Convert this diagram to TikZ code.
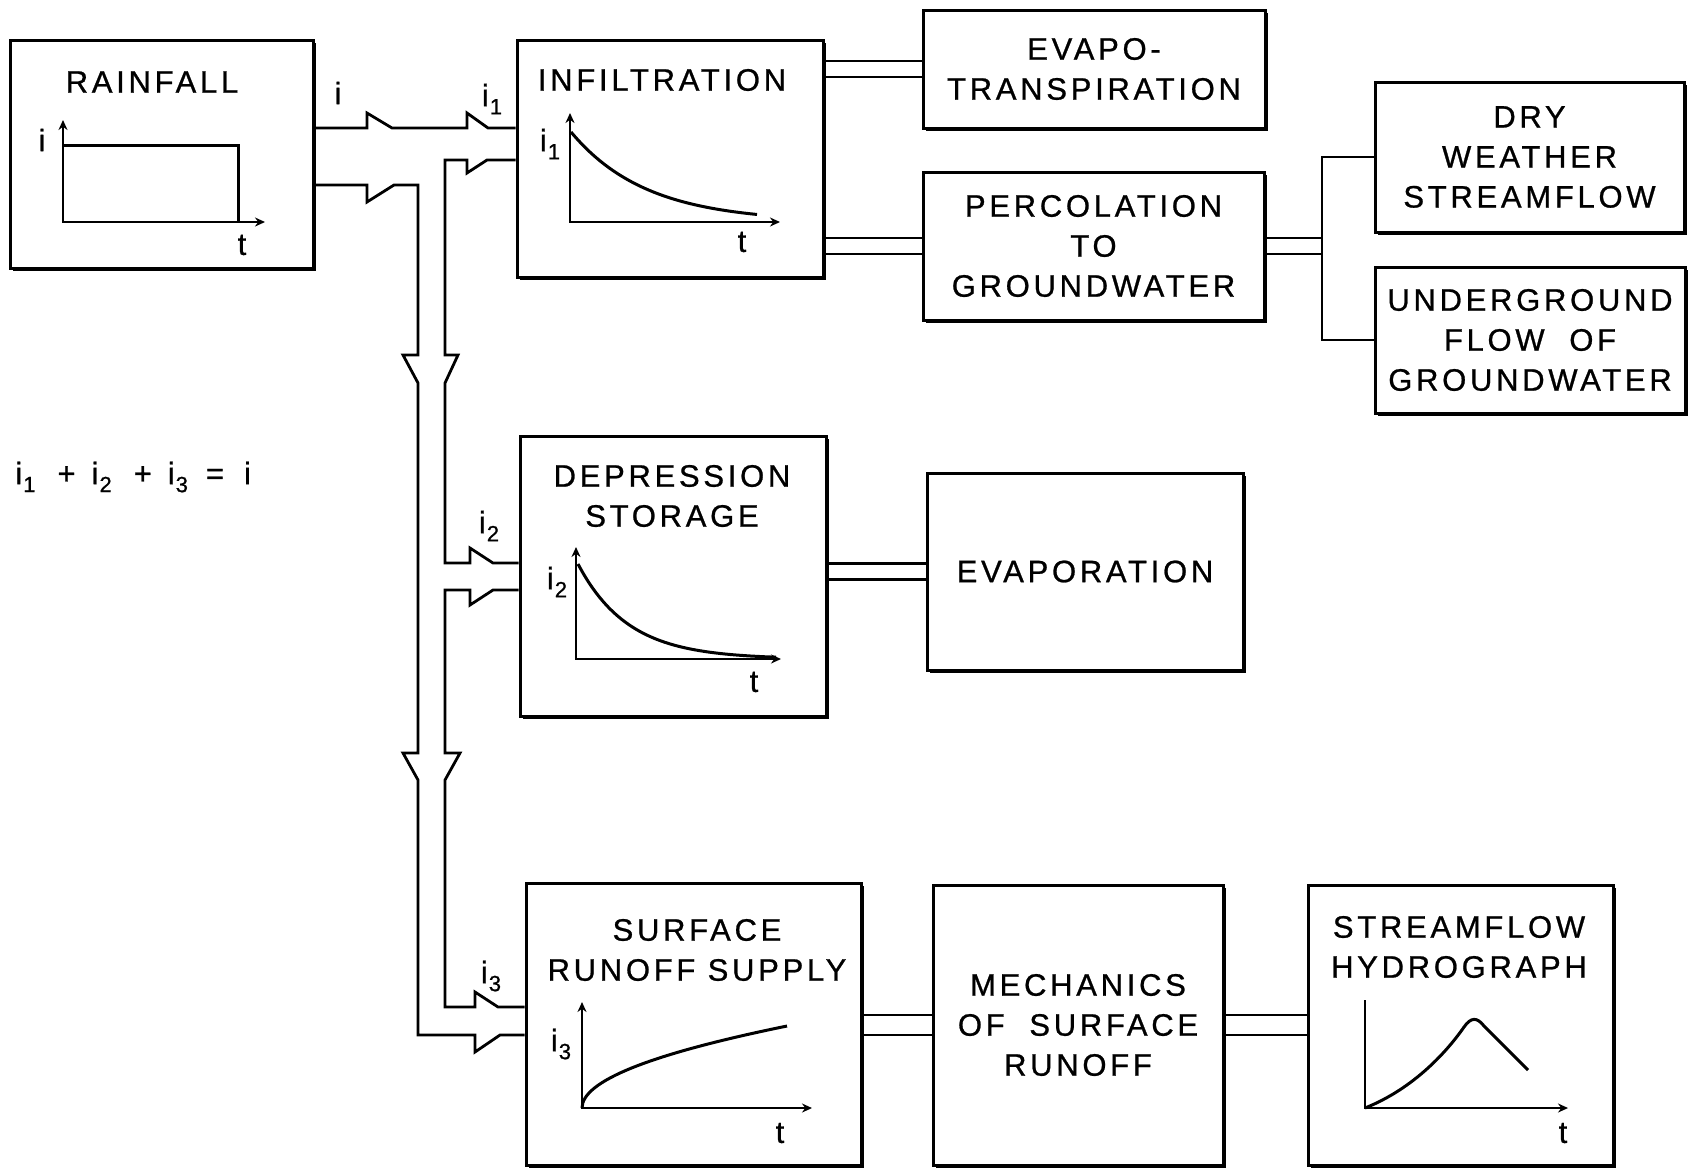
\documentclass[tikz,border=0pt]{standalone}
\usepackage{fontspec}
\newfontfamily\lettering[LetterSpace=12, FakeBold=0.8]{Liberation Sans}
\usetikzlibrary{
  arrows.meta,
  fit,
  backgrounds,
  shadows
}
\newcommand{\isub}[1]{i\kern0.5pt\raisebox{-4pt}{\fontsize{11}{11}\selectfont #1}}

\begin{document}
\begin{tikzpicture}[
  x=0.5pt, y=-0.5pt,
  blk/.style={
    draw, line width=1.5pt, fill=white, inner sep=0pt,
    drop shadow={shadow xshift=1.6pt, shadow yshift=-1.6pt, opacity=1, fill=black},
  },
  ttl/.style={font=\lettering\fontsize{15.5}{20}\selectfont, align=center},
  lbl/.style={font=\lettering\fontsize{15.5}{16}\selectfont, inner sep=0pt},
  pipe/.style={line width=1.4pt, line join=miter},
  duct/.style={double, line width=1.2pt, double distance=6.8pt},
  wire/.style={line width=1.4pt},
  axis/.style={line width=1.4pt, {Stealth[length=5pt,width=4.5pt]}-{Stealth[length=5pt,width=4.5pt]}},
  haxis/.style={line width=1.4pt, -{Stealth[length=5pt,width=4.5pt]}},
  curve/.style={line width=1.5pt},
]
\useasboundingbox (0,0) rectangle (1689,1168);

% Boxes
\node[blk, fit={(10,40) (313,268)}]     (rain)  {};
\node[blk, fit={(517,40) (823,277)}]    (infil) {};
\node[blk, fit={(923,10) (1265,128)}]   (evt)   {};
\node[blk, fit={(923,172) (1264,320)}]  (perc)  {};
\node[blk, fit={(1375,82) (1684,232)}]  (dry)   {};
\node[blk, fit={(1375,267) (1685,413)}] (under) {};
\node[blk, fit={(520,436) (826,716)}]   (depr)  {};
\node[blk, fit={(927,473) (1243,670)}]  (evap)  {};
\node[blk, fit={(526,883) (861,1165)}]  (surf)  {};
\node[blk, fit={(933,885) (1223,1165)}] (mech)  {};
\node[blk, fit={(1308,885) (1613,1165)}] (hydro) {};

% Box texts
\node[ttl] (evtT)   at (evt)   {EVAPO-\\TRANSPIRATION};
\node[ttl] (percT)  at (perc)  {PERCOLATION\\TO\\GROUNDWATER};
\node[ttl] (dryT)   at (dry)   {DRY\\WEATHER\\STREAMFLOW};
\node[ttl] (underT) at (under) {UNDERGROUND\\FLOW\ \ OF\\GROUNDWATER};
\node[ttl] (evapT)  at (evap)  {EVAPORATION};
\node[ttl] (mechT)  at (mech)  {MECHANICS\\OF\ \ SURFACE\\RUNOFF};
\node[ttl] (rainT)  at (152,82)   {RAINFALL};
\node[ttl] (infilT) at (662,80)   {INFILTRATION};
\node[ttl] (deprT)  at (672,496)  {DEPRESSION\\STORAGE};
\node[ttl] (surfT)  at (697,950)  {SURFACE\\RUNOFF SUPPLY};
\node[ttl] (hydroT) at (1459,947) {STREAMFLOW\\HYDROGRAPH};

% Small graphs
\draw[axis] (63,120) -- (63,222) -- (265,222);
\draw[curve] (63,145) -- (238,145) -- (238,222);
\node[lbl] (rainI) at (42,140)  {i};
\node[lbl] (raint) at (242,245) {t};

\draw[axis] (570,113) -- (570,222) -- (780,222);
\draw[curve] plot[domain=571:757, samples=40, smooth] (\x, {222-90*exp(-(\x-571)/75)});
\node[lbl] (infilI) at (550,144) {\isub{1}};
\node[lbl] (infilt) at (742,242) {t};

\draw[axis] (576,547) -- (576,659) -- (781,659);
\draw[curve] plot[domain=578:776, samples=40, smooth] (\x, {659-95*exp(-(\x-578)/50)});
\node[lbl] (deprI) at (557,582) {\isub{2}};
\node[lbl] (deprt) at (754,682) {t};

\draw[axis] (582,1002) -- (582,1108) -- (812,1108);
\draw[curve] (582,1108) .. controls (582,1081) and (650,1054) .. (787,1026);
\node[lbl] (surfI) at (561,1044) {\isub{3}};
\node[lbl] (surft) at (780,1133) {t};

\draw[haxis] (1365,1000) -- (1365,1108) -- (1568,1108);
\draw[curve] (1365,1108) .. controls (1415,1088) and (1448,1050) .. (1464,1027)
  .. controls (1471,1017) and (1477,1017) .. (1484,1026) -- (1528,1070);
\node[lbl] (hydrot) at (1563,1133) {t};

% Pipe levels
\coordinate (yA) at (0,128);
\coordinate (yB) at (0,185);
\coordinate (yC) at (0,160);
\coordinate (yD) at (0,563);
\coordinate (yE) at (0,590);
\coordinate (yF) at (0,1007);
\coordinate (yG) at (0,1035);
\coordinate (split) at (1322,246);

% Flow pipes with arrow notches
\draw[pipe] (rain.east |- yA) -- (367,128) -- ++(0,-15) -- ++(25,15) -- (467,128)
  -- ++(0,-15) -- ++(21,15) -- (infil.west |- yA);
\draw[pipe] (rain.east |- yB) -- (367,185) -- ++(0,17) -- ++(27,-17) -- (418,185)
  -- (418,355) -- ++(-15,0) -- ++(15,28) -- (418,753) -- ++(-15,0) -- ++(15,27)
  -- (418,1035) -- (475,1035) -- ++(0,17) -- ++(25,-17) -- (surf.west |- yG);
\draw[pipe] (infil.west |- yC) -- (487,160) -- ++(-20,13) -- ++(0,-13) -- (445,160)
  -- (445,355) -- ++(13,0) -- ++(-13,28) -- (445,563) -- (470,563)
  -- ++(0,-15) -- ++(23,15) -- (depr.west |- yD);
\draw[pipe] (depr.west |- yE) -- (493,590) -- ++(-23,15) -- ++(0,-15) -- (445,590)
  -- (445,753) -- ++(15,0) -- ++(-15,27) -- (445,1007) -- (475,1007)
  -- ++(0,-15) -- ++(23,15) -- (surf.west |- yF);

% Pipe labels
\node[lbl] (lbli)  at (338,93)  {i};
\node[lbl] (lbli1) at (492,99)  {\isub{1}};
\node[lbl] (lbli2) at (489,526) {\isub{2}};
\node[lbl] (lbli3) at (491,976) {\isub{3}};

% Balance
\node[lbl, anchor=west] (bal) at (15,477)
  {\isub{1}\hspace{11pt}+\hspace{8pt}\isub{2}\hspace{11pt}+\hspace{8pt}\isub{3}\hspace{9pt}=\hspace{10pt}i};

% Ducts between boxes
\begin{scope}[on background layer]
\draw[duct] (infil.east |- evt.west) -- (evt.west);
\draw[duct] (infil.east |- perc.west) -- (perc.west);
\draw[duct] (perc.east) -- (split);
\draw[duct] (depr.east |- evap.west) -- (evap.west);
\draw[duct, double distance=8.8pt] (surf.east |- mech.west) -- (mech.west);
\draw[duct, double distance=8.8pt] (mech.east) -- (mech.east -| hydro.west);
\end{scope}
\draw[wire] (dry.west) -| (split) |- (under.west);

\end{tikzpicture}
\end{document}
